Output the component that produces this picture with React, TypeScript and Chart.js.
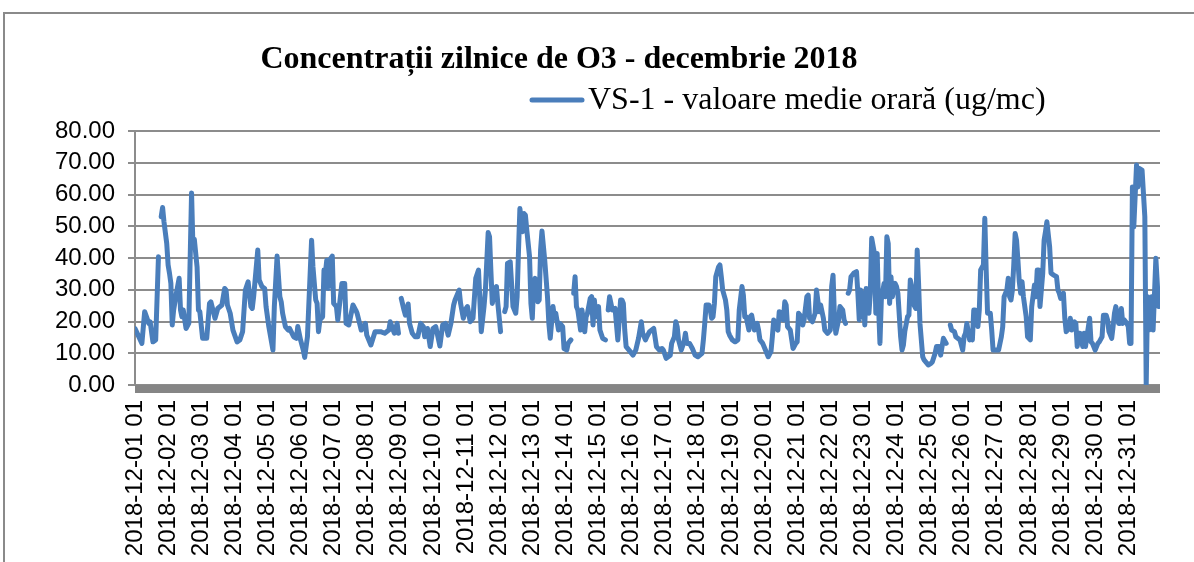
import React, { useEffect, useRef } from "react";
import { Chart, registerables } from "chart.js";

Chart.register(...registerables);

const TITLE = "Concentrații zilnice de O3 - decembrie 2018";
const SERIES_NAME = "VS-1 - valoare medie orară (ug/mc)";

// one tick label per day (each day starts at hour index 0, 24, 48, ...)
const DAY_LABELS = [
  "2018-12-01 01", "2018-12-02 01", "2018-12-03 01", "2018-12-04 01", "2018-12-05 01",
  "2018-12-06 01", "2018-12-07 01", "2018-12-08 01", "2018-12-09 01", "2018-12-10 01",
  "2018-12-11 01", "2018-12-12 01", "2018-12-13 01", "2018-12-14 01", "2018-12-15 01",
  "2018-12-16 01", "2018-12-17 01", "2018-12-18 01", "2018-12-19 01", "2018-12-20 01",
  "2018-12-21 01", "2018-12-22 01", "2018-12-23 01", "2018-12-24 01", "2018-12-25 01",
  "2018-12-26 01", "2018-12-27 01", "2018-12-28 01", "2018-12-29 01", "2018-12-30 01",
  "2018-12-31 01",
];

const Y_MIN = 0;
const Y_MAX = 80;
const Y_STEP = 10;
const HOUR_MAX = 743;
const HOURS_PER_DAY = 24;

// hour index within December 2018 (0 = 2018-12-01 01)
const HOURS = [
  0, 5, 7, 10, 11, 13, 15, 17, 18, 19,
  20, 21, 23, 24, 25, 26, 27, 28, 30, 32,
  33, 34, 35, 37, 39, 41, 42, 43, 45, 46,
  47, 49, 52, 54, 55, 58, 60, 63, 65, 66,
  67, 69, 71, 74, 76, 78, 80, 82, 84, 85,
  86, 89, 90, 92, 94, 95, 97, 100, 101, 103,
  105, 106, 107, 109, 111, 112, 115, 117, 118, 120,
  122, 123, 125, 128, 129, 131, 132, 133, 134, 136,
  137, 138, 139, 140, 141, 143, 144, 146, 147, 150,
  152, 153, 155, 158, 160, 161, 164, 167, 168, 171,
  174, 178, 181, 184, 185, 188, 190, 191, 192, 193,
  195, 196, 198, 199, 201, 203, 205, 207, 209, 210,
  212, 214, 216, 218, 221, 223, 225, 227, 229, 231,
  232, 235, 236, 238, 240, 241, 243, 245, 247, 249,
  251, 253, 254, 256, 257, 258, 259, 261, 262, 263,
  265, 266, 268, 269, 270, 272, 274, 276, 277, 278,
  279, 281, 282, 283, 284, 286, 287, 288, 289, 290,
  292, 293, 294, 295, 297, 299, 300, 301, 303, 304,
  305, 307, 308, 310, 311, 313, 314, 316, 317, 318,
  319, 320, 321, 323, 324, 326, 327, 328, 330, 331,
  332, 333, 334, 336, 337, 339, 341, 342, 343, 344,
  346, 348, 350, 352, 353, 354, 355, 356, 359, 361,
  363, 365, 367, 368, 370, 371, 373, 376, 378, 380,
  382, 383, 385, 388, 389, 391, 392, 393, 394, 396,
  398, 399, 400, 402, 404, 406, 408, 411, 412, 413,
  414, 416, 417, 418, 419, 420, 421, 423, 424, 425,
  426, 428, 429, 430, 431, 433, 435, 437, 438, 440,
  441, 442, 443, 445, 446, 447, 449, 451, 452, 453,
  455, 457, 459, 461, 462, 463, 465, 466, 467, 469,
  470, 471, 472, 473, 475, 477, 479, 480, 481, 483,
  484, 485, 487, 488, 489, 491, 493, 494, 496, 497,
  499, 500, 502, 504, 505, 506, 507, 508, 510, 511,
  513, 514, 515, 516, 517, 518, 519, 521, 523, 524,
  525, 526, 527, 528, 529, 530, 532, 533, 534, 536,
  537, 538, 539, 540, 541, 543, 544, 545, 546, 547,
  548, 549, 551, 552, 553, 555, 556, 557, 558, 560,
  561, 562, 563, 564, 566, 567, 568, 569, 571, 572,
  575, 577, 578, 580, 581, 583, 584, 586, 588, 589,
  591, 592, 594, 595, 598, 600, 601, 602, 603, 605,
  606, 607, 608, 609, 611, 612, 613, 615, 616, 617,
  618, 620, 621, 622, 624, 626, 628, 629, 630, 632,
  633, 634, 635, 636, 637, 638, 639, 640, 641, 642,
  643, 644, 646, 647, 649, 650, 652, 653, 654, 655,
  656, 658, 659, 660, 661, 663, 664, 666, 668, 669,
  670, 671, 673, 674, 675, 677, 678, 679, 681, 682,
  683, 684, 685, 687, 688, 689, 690, 692, 693, 694,
  696, 698, 699, 701, 702, 704, 705, 706, 708, 709,
  710, 711, 713, 714, 715, 716, 717, 719, 720, 721,
  722, 723, 724, 726, 727, 728, 730, 732, 733, 734,
  735, 737, 738, 740, 742,
];

// O3 hourly mean (ug/mc); null = missing hour (line break)
const VALUES = [
  17.8, 13.1, 23.1, 19.4, 19.9, 13.6, 14.2, 40.4, null, 53.0,
  55.9, 51.4, 44.6, 37.8, 35.2, 32.0, 18.9, 23.6, 28.9, 33.6,
  23.6, 21.5, 23.6, 17.8, 19.4, 60.5, 43.5, 45.9, 37.2, 23.6,
  23.1, 14.7, 14.7, 25.7, 26.2, 21.0, 24.1, 25.2, 30.4, 29.9,
  25.2, 22.6, 17.3, 13.6, 14.2, 16.8, 29.9, 32.5, 24.7, 24.1,
  27.8, 42.5, 33.1, 31.0, 30.4, 24.7, 18.4, 11.0, 24.7, 40.6,
  27.8, 26.2, 22.6, 18.4, 17.3, 17.8, 15.2, 14.7, 18.4, 14.2,
  11.0, 8.7, 15.2, 45.6, 37.2, 26.8, 25.7, 16.8, 20.5, 21.5,
  36.2, 35.2, 39.3, 30.4, 39.3, 40.6, 25.7, 24.7, 20.5, 32.0,
  32.0, 19.4, 18.9, 25.2, 23.6, 22.6, 17.3, 19.4, 15.7, 12.6,
  16.8, 16.8, 16.3, 17.3, 19.9, 16.3, 19.4, 16.3, null, 27.3,
  23.6, 22.0, 25.5, 19.4, 16.3, 15.2, 15.2, 19.4, 18.4, 15.2,
  17.8, 12.1, 17.8, 18.4, 12.3, 18.9, 19.4, 15.7, 19.4, 25.2,
  26.8, 29.9, 25.7, 21.0, 24.1, 24.7, 19.9, 21.0, 33.6, 36.2,
  16.8, 24.7, 29.9, 48.0, 46.7, 35.7, 25.7, 30.4, 31.0, 25.7,
  16.8, null, 23.1, 24.7, 38.3, 38.8, 24.7, 22.6, 27.8, 42.5,
  55.6, 48.3, 54.0, 53.5, 48.8, 40.4, 25.7, 21.0, 32.0, 33.6,
  26.2, 26.8, 42.5, 48.5, 39.3, 27.8, 19.4, 14.7, 24.7, 21.5,
  22.6, 17.3, 19.4, 18.4, 11.5, 11.0, 13.1, 14.2, null, 28.9,
  34.1, 24.7, 23.6, 17.3, 23.6, 16.8, 21.5, 22.6, 27.3, 27.8,
  18.9, 26.8, 21.5, 24.7, 17.3, 14.7, 14.2, null, 23.6, 27.8,
  23.6, 24.1, 14.2, 26.8, 26.8, 25.7, 17.3, 12.1, 10.5, 9.4,
  11.0, 14.7, 19.9, 16.3, 14.2, 15.2, 16.8, 17.8, 12.1, 11.0,
  11.5, 11.0, 8.4, 9.4, 13.1, 15.2, 19.9, 18.4, 14.2, 11.0,
  13.6, 16.3, 13.1, 13.1, 11.5, 9.4, 8.9, 10.0, 14.2, 19.4,
  25.2, 25.2, 23.6, 21.0, 21.5, 25.7, 34.1, 37.2, 37.8, 34.1,
  29.9, 26.8, 23.6, 16.8, 15.7, 14.2, 13.6, 14.2, 23.6, 31.0,
  28.3, 21.5, 21.5, 17.3, 21.5, 22.0, 17.3, 19.4, 17.3, 14.2,
  13.1, 11.0, 8.9, 10.5, 15.2, 20.5, 17.8, 17.3, 23.1, 22.6,
  20.5, 26.2, 25.2, 18.4, 17.3, 11.5, 13.1, 13.6, 22.6, 21.5,
  18.9, 20.5, 27.8, 28.3, 21.0, 19.9, 22.6, 29.9, 23.1, 25.2,
  21.0, 17.3, 16.3, 17.3, 31.0, 34.6, 21.5, 16.3, 20.5, 24.7,
  23.6, 20.5, 19.4, null, 28.9, 29.9, 34.1, 35.2, 35.7, 28.9,
  20.5, 29.9, 21.5, 28.9, 18.9, 30.4, 22.6, 28.9, 46.2, 41.4,
  22.6, 41.4, 24.7, 13.1, 26.8, 32.0, 27.8, 46.7, 44.6, 25.7,
  34.1, 27.8, 32.0, 31.0, 28.9, 15.2, 11.0, 12.6, 16.8, 21.5,
  22.0, 33.1, 31.0, 25.7, 24.1, 42.5, 32.0, 19.4, 8.9, 7.9,
  6.3, 6.8, 7.3, 10.0, 12.1, 12.1, 9.4, 14.7, 13.1, null,
  18.9, 17.3, 16.8, 15.2, 14.2, 11.0, 15.2, 16.3, 19.4, 14.2,
  16.8, 14.2, 23.6, 23.6, 18.4, 23.6, 36.2, 37.8, 52.5, 36.2,
  22.6, 22.6, 17.3, 11.0, 11.0, 11.0, 15.2, 18.4, 27.8, 29.9,
  33.6, 27.8, 26.8, 29.9, 37.8, 47.7, 45.6, 39.3, 32.5, 28.9,
  32.5, 27.8, 21.5, 15.2, 14.2, 24.7, 31.5, 27.8, 36.2, 36.2,
  24.7, 35.2, 45.6, 48.3, 51.4, 43.5, 35.2, 34.6, 34.1, 29.9,
  28.9, 27.3, 28.9, 21.0, 16.8, 17.8, 21.0, 17.3, 19.9, 19.4,
  12.1, 16.3, 16.3, 12.1, 16.3, 12.1, 15.2, 21.0, 13.6, 13.1,
  11.0, 13.1, 13.6, 15.2, 22.0, 22.0, 20.5, 16.8, 14.7, 18.4,
  22.6, 24.7, 19.4, 19.4, 24.1, 19.4, 20.5, 19.4, 18.4, 13.1,
  13.1, 62.4, 49.8, 69.3, 62.4, 68.2, 67.7, 53.0, 0.0, 27.8,
  17.3, 27.8, 17.3, 39.9, 24.7,
];

const LINE_COLOR = "#4a7ebb";
const GRID_COLOR = "#8c8c8c";
const AXIS_BAR_COLOR = "#858585";
const SANS = "'Liberation Sans', Arial, sans-serif";
const SERIF = "'Liberation Serif', 'Times New Roman', serif";

const W = 1194;
const H = 562;

const excelLook = {
  id: "excelLook",
  beforeDraw(chart: any) {
    const ctx = chart.ctx;
    ctx.save();
    ctx.fillStyle = "#ffffff";
    ctx.fillRect(0, 0, chart.width, chart.height);
    // outer chart frame (only top and left edges visible in the crop)
    ctx.strokeStyle = "#8a8a8a";
    ctx.lineWidth = 2;
    ctx.strokeRect(4, 13, chart.width + 20, chart.height + 20);
    ctx.restore();
  },
  beforeDatasetsDraw(chart: any) {
    const ctx = chart.ctx;
    const a = chart.chartArea;
    const y0 = chart.scales.y.getPixelForValue(0);
    ctx.save();
    ctx.fillStyle = AXIS_BAR_COLOR;
    ctx.fillRect(a.left, y0, a.right - a.left, 8);
    ctx.restore();
  },
  afterDraw(chart: any) {
    const ctx = chart.ctx;
    ctx.save();
    ctx.fillStyle = "#000000";
    ctx.font = `bold 32px ${SERIF}`;
    ctx.textAlign = "center";
    ctx.textBaseline = "middle";
    ctx.fillText(TITLE, 559, 60);
    // legend
    ctx.strokeStyle = LINE_COLOR;
    ctx.lineWidth = 5;
    ctx.lineCap = "round";
    ctx.beginPath();
    ctx.moveTo(532, 100);
    ctx.lineTo(582, 100);
    ctx.stroke();
    ctx.font = `32px ${SERIF}`;
    ctx.textAlign = "left";
    ctx.fillText(SERIES_NAME, 588, 101);
    ctx.restore();
  },
};

export default function App() {
  const ref = useRef<HTMLCanvasElement | null>(null);

  useEffect(() => {
    if (!ref.current) return;
    const points = HOURS.map((h, i) => ({ x: h, y: VALUES[i] }));
    const chart = new Chart(ref.current, {
      type: "line",
      data: {
        datasets: [
          {
            label: SERIES_NAME,
            data: points as any,
            borderColor: LINE_COLOR,
            backgroundColor: LINE_COLOR,
            borderWidth: 5,
            borderJoinStyle: "round",
            borderCapStyle: "round",
            pointRadius: 0,
            tension: 0,
            spanGaps: false,
          },
        ],
      },
      options: {
        animation: false,
        responsive: false,
        layout: { padding: { left: 0, top: 131, right: 34, bottom: 0 } },
        plugins: {
          legend: { display: false },
          title: { display: false },
          tooltip: { enabled: false },
        },
        scales: {
          x: {
            type: "linear",
            min: 0,
            max: HOUR_MAX,
            grid: { display: false, drawTicks: false },
            border: { display: false },
            afterFit(scale: any) {
              scale.height = H - 385;
            },
            ticks: {
              stepSize: HOURS_PER_DAY,
              autoSkip: false,
              includeBounds: false,
              maxRotation: 90,
              minRotation: 90,
              padding: 15,
              color: "#000000",
              font: { family: SANS, size: 24 },
              callback: (v: any) => {
                const n = Number(v);
                if (n % HOURS_PER_DAY !== 0) return "";
                return DAY_LABELS[n / HOURS_PER_DAY] ?? "";
              },
            },
          },
          y: {
            min: Y_MIN,
            max: Y_MAX,
            afterFit(scale: any) {
              scale.width = 135;
            },
            grid: {
              color: GRID_COLOR,
              lineWidth: 2,
              drawTicks: true,
              tickLength: 7,
            },
            border: { display: true, color: GRID_COLOR, width: 2 },
            ticks: {
              stepSize: Y_STEP,
              autoSkip: false,
              padding: 13,
              color: "#000000",
              font: { family: SANS, size: 24 },
              callback: (v: any) => Number(v).toFixed(2),
            },
          },
        },
      },
      plugins: [excelLook],
    });
    return () => chart.destroy();
  }, []);

  return (
    <div style={{ position: "absolute", left: 0, top: 0, width: W, height: H, background: "#fff" }}>
      <canvas ref={ref} width={W} height={H} style={{ display: "block", width: W, height: H }} />
    </div>
  );
}
